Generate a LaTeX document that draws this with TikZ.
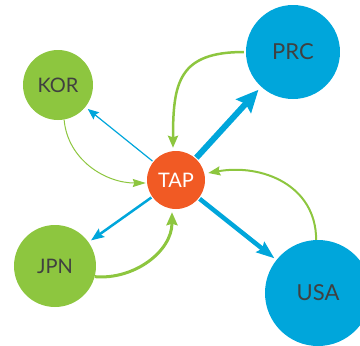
\documentclass[tikz,border=0pt]{standalone}
\usepackage{fontspec}
\setmainfont{Lato}
\usetikzlibrary{arrows.meta}
\definecolor{cgreen}{HTML}{8DC63F}
\definecolor{cblue}{HTML}{00A6DB}
\definecolor{corange}{HTML}{F15A24}
\definecolor{ctext}{HTML}{404040}
\tikzset{
  country/.style={circle, inner sep=0pt, text=ctext},
  bluearr/.style={draw=cblue, shorten <=1pt, shorten >=3pt},
  greenarr/.style={draw=cgreen},
}
\begin{document}
\begin{tikzpicture}[x=1pt,y=1pt]
\useasboundingbox (0,0) rectangle (360,-346);
\node[country, fill=corange, text=white, minimum size=58pt, font=\fontsize{20}{24}\selectfont] (TAP) at (176,-180) {TAP};
\node[country, fill=cgreen, minimum size=70pt, font=\fontsize{20}{24}\selectfont] (KOR) at (58,-85) {KOR};
\node[country, fill=cblue, minimum size=94pt, font=\fontsize{22}{26}\selectfont] (PRC) at (293,-52) {PRC};
\node[country, fill=cgreen, minimum size=82pt, font=\fontsize{20}{24}\selectfont] (JPN) at (55,-266) {JPN};
\node[country, fill=cblue, minimum size=106pt, font=\fontsize{22}{26}\selectfont] (USA) at (318,-293) {USA};
% blue outgoing arrows
\draw[bluearr, line width=1.2pt, -{Stealth[length=11pt,width=9pt,inset=1.5pt]}] (TAP) -- (KOR);
\draw[bluearr, line width=6pt, -{Stealth[length=22pt,width=20pt,inset=3pt]}, shorten >=4pt] (TAP) -- (PRC);
\draw[bluearr, line width=4.5pt, -{Stealth[length=18pt,width=13pt,inset=2.5pt]}, shorten >=2.5pt] (TAP) -- (USA);
\draw[bluearr, line width=2.5pt, -{Stealth[length=13pt,width=10pt,inset=2pt]}] (TAP) -- (JPN);
% green incoming curves
\draw[greenarr, line width=1pt, -{Stealth[length=13pt,width=8pt,inset=1.5pt]}] (KOR.-80) to[out=-85,in=180] ([shift={(-1pt,-3pt)}]TAP.west);
\draw[greenarr, line width=2.5pt, -{Stealth[length=12pt,width=10pt,inset=1.5pt]}] ([xshift=-2pt]PRC.west) to[out=180,in=90,looseness=1.4] ([shift={(-3pt,3pt)}]TAP.north);
\draw[greenarr, line width=2pt, -{Stealth[length=12pt,width=9pt,inset=1.5pt]}] (USA.92) to[out=90,in=10,looseness=1.1] ([shift={(3pt,7pt)}]TAP.east);
\draw[greenarr, line width=3pt, -{Stealth[length=13pt,width=11pt,inset=1.5pt]}] (JPN.-15) to[out=-5,in=-90] ([shift={(-4pt,-3pt)}]TAP.south);
\end{tikzpicture}
\end{document}
